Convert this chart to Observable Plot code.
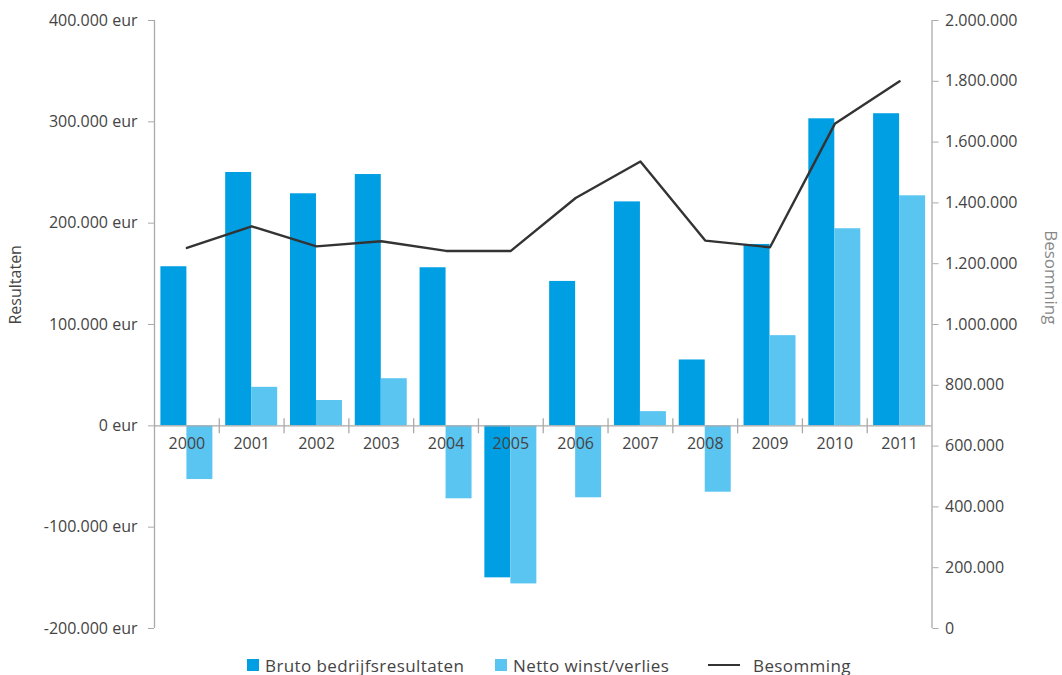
<!DOCTYPE html>
<html>
<head>
<meta charset="utf-8">
<script src="https://cdn.jsdelivr.net/npm/d3@7"></script>
<script src="https://cdn.jsdelivr.net/npm/@observablehq/plot@0.6"></script>
<style>
  html, body { margin: 0; padding: 0; background: #fff; }
  body { width: 1062px; height: 675px; overflow: hidden; font-family: "Open Sans", sans-serif; }
  #legend { position: relative; height: 40px; color: #444; font-size: 17px; letter-spacing: 0.4px; }
  .item { position: absolute; top: 0; height: 40px; display: flex; align-items: center; white-space: nowrap; }
  .sw { width: 12px; height: 12px; margin-right: 6px; }
  .ln { width: 32px; height: 2px; background: #333; margin-right: 13px; }
</style>
</head>
<body>
<div id="chart"></div>
<div id="legend"></div>
<script>
const years = ["2000","2001","2002","2003","2004","2005","2006","2007","2008","2009","2010","2011"];
const bruto = [157000, 250000, 229000, 248000, 156000, -150000, 142500, 221000, 65000, 179000, 303000, 308000];
const netto = [-53000, 38000, 25000, 46500, -72000, -156000, -71000, 14000, -65500, 89000, 194500, 227000];
const besomming = [1252000, 1323000, 1257000, 1274000, 1242000, 1242000, 1416000, 1536000, 1276000, 1254000, 1660000, 1800000];
const leftTicks = [-200000, -100000, 0, 100000, 200000, 300000, 400000];
const rightTicks = [0, 200000, 400000, 600000, 800000, 1000000, 1200000, 1400000, 1600000, 1800000, 2000000];
const seriesNames = ["Bruto bedrijfsresultaten", "Netto winst/verlies", "Besomming"];
const colors = ["#009fe3", "#5bc5f2", "#333333"];

const nl = d3.formatLocale({decimal: ",", thousands: ".", grouping: [3], currency: ["", ""], minus: "-"});
const fmt = nl.format(",");

// right axis (Besomming 0..2.000.000) mapped onto left scale (-200.000..400.000)
const toLeft = v => -200000 + v * 0.3;
const fromLeft = y => Math.round((y + 200000) / 0.3);

const rows = years.map((y, i) => ({year: y, bruto: bruto[i], netto: netto[i], besomming: besomming[i]}));
const innerYears = years.slice(1);

const half = 32.4;
const chart = Plot.plot({
  width: 1062,
  height: 645,
  marginLeft: 154,
  marginRight: 130.5,
  marginTop: 20,
  marginBottom: 17,
  style: {fontFamily: "Open Sans, sans-serif", fontSize: "16px", color: "#444", background: "#fff"},
  x: {domain: years, padding: 0, round: false, axis: null},
  y: {domain: [-200000, 400000], axis: null},
  marks: [
    Plot.barY(rows, {x: "year", y: "bruto", fill: colors[0], insetLeft: 6.4, insetRight: half}),
    Plot.barY(rows, {x: "year", y: "netto", fill: colors[1], insetLeft: half, insetRight: 6.4}),
    Plot.ruleY([0], {stroke: "#aaa", strokeWidth: 1.3}),
    Plot.ruleX(innerYears, {x: d => d, y1: 0, y2: 0, dx: -half, insetTop: -7, insetBottom: -8, stroke: "#aaa", strokeWidth: 1.3}),
    Plot.ruleX([years[0]], {x: d => d, y1: -200000, y2: 400000, dx: -half, stroke: "#aaa", strokeWidth: 1.3}),
    Plot.ruleX([years[years.length - 1]], {x: d => d, y1: -200000, y2: 400000, dx: half, stroke: "#aaa", strokeWidth: 1.3}),
    Plot.axisY({anchor: "left", ticks: leftTicks, tickFormat: d => fmt(d) + " eur", tickSize: 6, tickPadding: 11, stroke: "#aaa", fill: "#444", fontSize: 16}),
    Plot.axisY({anchor: "right", ticks: rightTicks.map(toLeft), tickFormat: d => fmt(fromLeft(d)), tickSize: 6, tickPadding: 7, stroke: "#aaa", fill: "#444", fontSize: 16}),
    Plot.line(rows, {x: "year", y: d => toLeft(d.besomming), stroke: colors[2], strokeWidth: 2.4}),
    Plot.text(years, {x: d => d, y: 0, dy: 18, text: d => d, fill: "#444", fontSize: 16}),
    Plot.text(["Resultaten"], {frameAnchor: "left", dx: -139, rotate: -90, fill: "#444", fontSize: 16}),
    Plot.text(["Besomming"], {frameAnchor: "right", dx: 118, rotate: 90, fill: "#888", fontSize: 17})
  ]
});
document.getElementById("chart").appendChild(chart);

const legend = document.getElementById("legend");
const lefts = [247, 495, 708];
seriesNames.forEach((name, i) => {
  const item = document.createElement("div");
  item.className = "item";
  item.style.left = lefts[i] + "px";
  const mark = document.createElement("div");
  if (i < 2) { mark.className = "sw"; mark.style.background = colors[i]; }
  else { mark.className = "ln"; mark.style.background = colors[i]; }
  const label = document.createElement("span");
  label.textContent = name;
  item.appendChild(mark);
  item.appendChild(label);
  legend.appendChild(item);
});
</script>
</body>
</html>
